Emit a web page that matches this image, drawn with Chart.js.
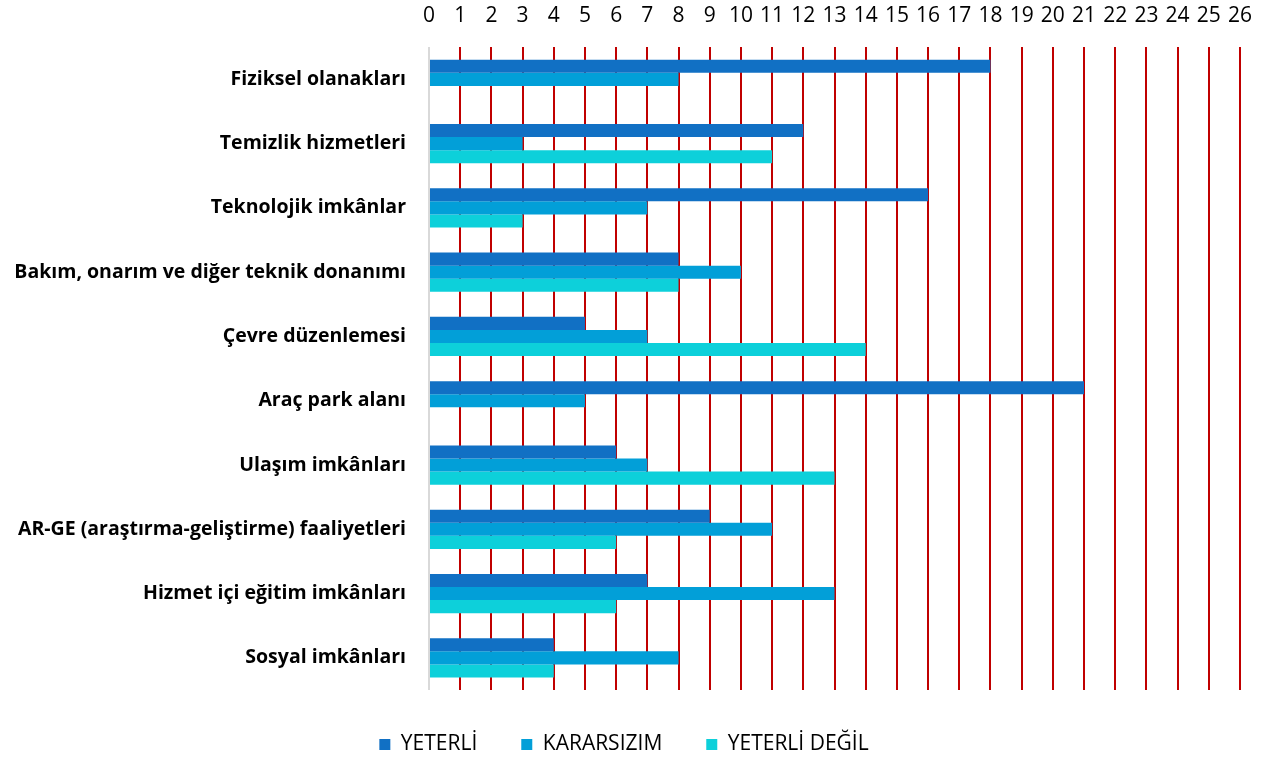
<!DOCTYPE html>
<html>
<head>
<meta charset="utf-8">
<script src="https://cdn.jsdelivr.net/npm/chart.js@4/dist/chart.umd.min.js"></script>
<style>
  html, body { margin: 0; padding: 0; background: #fff; }
  #wrap { width: 1273px; height: 758px; position: relative; }
</style>
</head>
<body>
<div id="wrap"><canvas id="chart"></canvas></div>
<script>
/* ---------- Data ---------- */
const categories = [
  'Fiziksel olanakları',
  'Temizlik hizmetleri',
  'Teknolojik imkânlar',
  'Bakım, onarım ve diğer teknik donanımı',
  'Çevre düzenlemesi',
  'Araç park alanı',
  'Ulaşım imkânları',
  'AR-GE (araştırma-geliştirme) faaliyetleri',
  'Hizmet içi eğitim imkânları',
  'Sosyal imkânları'
];
const seriesNames = ['YETERLİ', 'KARARSIZIM', 'YETERLİ DEĞİL'];
const yeterli      = [18, 12, 16, 8, 5, 21, 6, 9, 7, 4];
const kararsizim   = [8, 3, 7, 10, 7, 5, 7, 11, 13, 8];
const yeterliDegil = [0, 11, 3, 8, 14, 0, 13, 6, 6, 4];
const xMin = 0, xMax = 26;

const colors = ['#1170c4', '#029fd8', '#0dd0da'];

/* ---------- Chart ---------- */
const font = "'Open Sans', 'Lato', sans-serif";
Chart.defaults.font.family = font;
Chart.defaults.color = '#000';

new Chart(document.getElementById('chart'), {
  type: 'bar',
  data: {
    labels: categories,
    datasets: [yeterli, kararsizim, yeterliDegil].map((d, i) => ({
      label: seriesNames[i],
      data: d,
      backgroundColor: colors[i],
      borderWidth: 0,
      barPercentage: 1,
      categoryPercentage: 0.61
    }))
  },
  options: {
    indexAxis: 'y',
    responsive: true,
    maintainAspectRatio: false,
    animation: false,
    layout: { padding: { top: -16, right: 33, left: 8, bottom: -7 } },
    plugins: {
      tooltip: { enabled: false },
      legend: {
        position: 'bottom',
        labels: {
          boxWidth: 11,
          boxHeight: 11,
          padding: 44,
          font: { size: 21 },
          color: '#000'
        }
      }
    },
    scales: {
      x: {
        position: 'top',
        min: xMin,
        max: xMax,
        ticks: {
          stepSize: 1,
          padding: 19,
          font: { size: 21 },
          color: '#000'
        },
        border: { display: false },
        grid: {
          drawTicks: false,
          lineWidth: 2,
          color: (ctx) => ctx.tick && ctx.tick.value === 0 ? '#d9d9d9' : '#c00000'
        }
      },
      y: {
        ticks: {
          padding: 15,
          font: { size: 19.5, weight: 'bold' },
          color: '#000'
        },
        grid: { display: false },
        border: { display: false },
        afterFit: (scale) => { scale.width = 421; }
      }
    }
  }
});
</script>
</body>
</html>
